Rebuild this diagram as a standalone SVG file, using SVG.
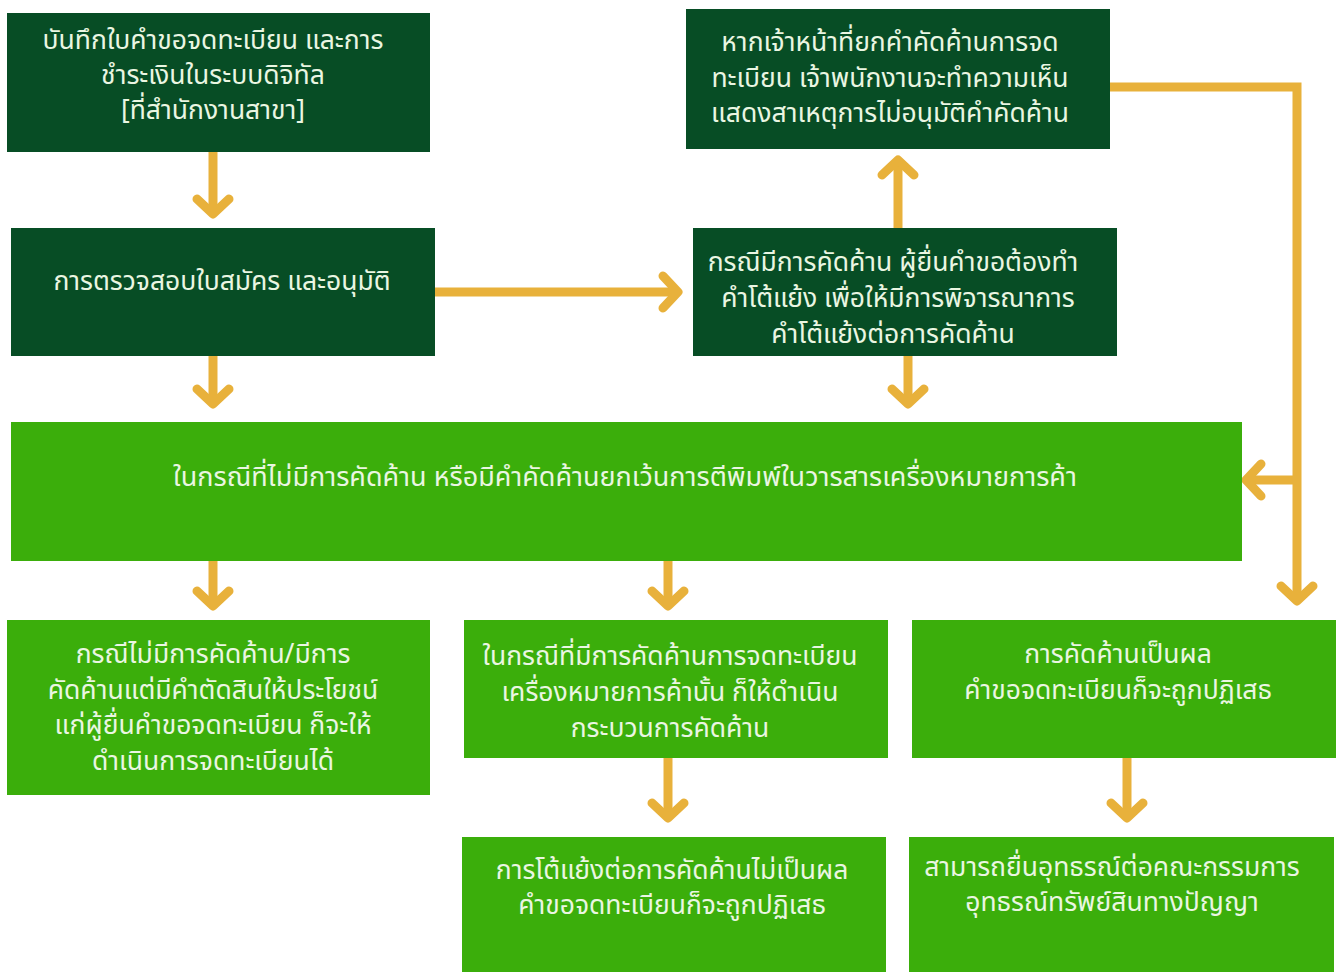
<svg xmlns="http://www.w3.org/2000/svg" width="1344" height="972" viewBox="0 0 1344 972">
<defs>
<style>
.dark{fill:#074D25;}
.light{fill:#3BAE0B;}
.t{font-family:"Noto Sans Thai","Noto Sans","DejaVu Sans",sans-serif;font-size:26.5px;fill:#EAF6E2;text-anchor:middle;}
.w{font-size:27px;}
.c{fill:none;stroke:#E8B13B;stroke-width:9;}
</style>
<marker id="ah" viewBox="-24 -24 48 48" markerWidth="48" markerHeight="48" markerUnits="userSpaceOnUse" refX="0" refY="0" orient="auto">
<path d="M-15 -16 L0 0 L-15 16" fill="none" stroke="#E8B13B" stroke-width="9" stroke-linecap="round" stroke-linejoin="round"/>
</marker>
</defs>
<rect width="1344" height="972" fill="#ffffff"/>
<g id="connectors">
<line class="c" x1="213" y1="152" x2="213" y2="214" marker-end="url(#ah)"/>
<line class="c" x1="435" y1="292" x2="678" y2="292" marker-end="url(#ah)"/>
<line class="c" x1="898" y1="228" x2="898" y2="160" marker-end="url(#ah)"/>
<polyline class="c" points="1110,87 1297,87 1297,601" marker-end="url(#ah)"/>
<line class="c" x1="1297" y1="480" x2="1246" y2="480" marker-end="url(#ah)"/>
<line class="c" x1="213" y1="356" x2="213" y2="404" marker-end="url(#ah)"/>
<line class="c" x1="908" y1="356" x2="908" y2="404" marker-end="url(#ah)"/>
<line class="c" x1="213" y1="561" x2="213" y2="606" marker-end="url(#ah)"/>
<line class="c" x1="668" y1="561" x2="668" y2="606" marker-end="url(#ah)"/>
<line class="c" x1="668" y1="758" x2="668" y2="818" marker-end="url(#ah)"/>
<line class="c" x1="1127" y1="758" x2="1127" y2="818" marker-end="url(#ah)"/>
</g>
<g id="nodeA">
<rect class="dark" x="7" y="13" width="423" height="139"/>
<text class="t" x="213" y="49">บันทึกใบคำขอจดทะเบียน และการ</text>
<text class="t" x="213" y="84">ชำระเงินในระบบดิจิทัล</text>
<text class="t" x="213" y="119">[ที่สำนักงานสาขา]</text>
</g>
<g id="nodeB">
<rect class="dark" x="11" y="228" width="424" height="128"/>
<text class="t" x="222" y="290">การตรวจสอบใบสมัคร และอนุมัติ</text>
</g>
<g id="nodeC">
<rect class="dark" x="686" y="9" width="424" height="140"/>
<text class="t" x="890" y="51">หากเจ้าหน้าที่ยกคำคัดค้านการจด</text>
<text class="t" x="890" y="87">ทะเบียน เจ้าพนักงานจะทำความเห็น</text>
<text class="t" x="890" y="122">แสดงสาเหตุการไม่อนุมัติคำคัดค้าน</text>
</g>
<g id="nodeD">
<rect class="dark" x="693" y="228" width="424" height="128"/>
<text class="t" x="893" y="271">กรณีมีการคัดค้าน ผู้ยื่นคำขอต้องทำ</text>
<text class="t" x="898" y="307">คำโต้แย้ง เพื่อให้มีการพิจารณาการ</text>
<text class="t" x="893" y="343">คำโต้แย้งต่อการคัดค้าน</text>
</g>
<g id="nodeE">
<rect class="light" x="11" y="422" width="1231" height="139"/>
<text class="t w" x="625" y="486">ในกรณีที่ไม่มีการคัดค้าน หรือมีคำคัดค้านยกเว้นการตีพิมพ์ในวารสารเครื่องหมายการค้า</text>
</g>
<g id="nodeF">
<rect class="light" x="7" y="620" width="423" height="175"/>
<text class="t" x="213" y="663">กรณีไม่มีการคัดค้าน/มีการ</text>
<text class="t" x="213" y="699">คัดค้านแต่มีคำตัดสินให้ประโยชน์</text>
<text class="t" x="213" y="734">แก่ผู้ยื่นคำขอจดทะเบียน ก็จะให้</text>
<text class="t" x="213" y="770">ดำเนินการจดทะเบียนได้</text>
</g>
<g id="nodeG">
<rect class="light" x="464" y="620" width="424" height="138"/>
<text class="t" x="670" y="665">ในกรณีที่มีการคัดค้านการจดทะเบียน</text>
<text class="t" x="670" y="701">เครื่องหมายการค้านั้น ก็ให้ดำเนิน</text>
<text class="t" x="670" y="737">กระบวนการคัดค้าน</text>
</g>
<g id="nodeH">
<rect class="light" x="912" y="620" width="424" height="138"/>
<text class="t" x="1118" y="663">การคัดค้านเป็นผล</text>
<text class="t" x="1118" y="699">คำขอจดทะเบียนก็จะถูกปฏิเสธ</text>
</g>
<g id="nodeI">
<rect class="light" x="462" y="837" width="424" height="135"/>
<text class="t" x="672" y="879">การโต้แย้งต่อการคัดค้านไม่เป็นผล</text>
<text class="t" x="672" y="914">คำขอจดทะเบียนก็จะถูกปฏิเสธ</text>
</g>
<g id="nodeJ">
<rect class="light" x="909" y="837" width="425" height="135"/>
<text class="t" x="1112" y="876">สามารถยื่นอุทธรณ์ต่อคณะกรรมการ</text>
<text class="t" x="1112" y="911">อุทธรณ์ทรัพย์สินทางปัญญา</text>
</g>
</svg>
